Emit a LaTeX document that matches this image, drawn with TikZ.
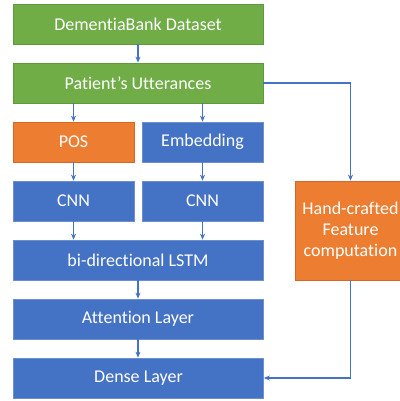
\documentclass[tikz,border=0pt]{standalone}
\usepackage{fontspec}
\setmainfont[Ligatures={NoCommon}]{Carlito}
\usetikzlibrary{arrows.meta}
\definecolor{gbox}{HTML}{70AD47}
\definecolor{gline}{HTML}{5E9A3A}
\definecolor{obox}{HTML}{ED7D31}
\definecolor{oline}{HTML}{D2692A}
\definecolor{bbox}{HTML}{4472C4}
\definecolor{bline}{HTML}{6D8FD0}
\definecolor{arr}{HTML}{4472C4}
\tikzset{
  box/.style={rectangle, inner sep=0pt, line width=0.7pt, text=white,
    font=\fontsize{18}{21}\selectfont, align=center},
  gr/.style={box, fill=gbox, draw=gline},
  orb/.style={box, fill=obox, draw=oline},
  bl/.style={box, fill=bbox, draw=bline},
  wide/.style={minimum width=250pt, minimum height=40pt},
  half/.style={minimum width=121pt, minimum height=40pt},
  conn/.style={draw=arr, line width=1.4pt, -{Stealth[length=6pt,width=5pt]}}
}
\begin{document}
\begin{tikzpicture}[x=1pt,y=-1pt]
\useasboundingbox[fill=white] (0,0) rectangle (399,401);
\node[gr,wide] (data) at (138,24) {DementiaBank Dataset};
\node[gr,wide] (pat) at (138,83) {Patient’s Utterances};
\node[orb,half] (pos) at (73.5,142) {POS};
\node[bl,half] (emb) at (202.5,142) {Embedding};
\node[bl,half] (cnna) at (73.5,201) {CNN};
\node[bl,half] (cnnb) at (202.5,201) {CNN};
\node[bl,wide] (lstm) at (138,260) {bi-directional LSTM};
\node[bl,wide] (att) at (138,319) {Attention Layer};
\node[bl,wide] (dense) at (138.5,378) {Dense Layer};
\node[orb,minimum width=111pt,minimum height=99pt] (hand) at (350.5,230.5) {Hand-crafted\\Feature\\computation};
\draw[conn] (data) -- (pat);
\draw[conn] (pat.south -| pos.north) -- (pos.north);
\draw[conn] (pat.south -| emb.north) -- (emb.north);
\draw[conn] (pos) -- (cnna);
\draw[conn] (emb) -- (cnnb);
\draw[conn] (cnna.south) -- (cnna.south |- lstm.north);
\draw[conn] (cnnb.south) -- (cnnb.south |- lstm.north);
\draw[conn] (lstm) -- (att);
\draw[conn] (att.south) -- (att.south |- dense.north);
\draw[conn] (pat.east) -| (hand.north);
\draw[conn] (hand.south) |- (dense.east);
\end{tikzpicture}
\end{document}
